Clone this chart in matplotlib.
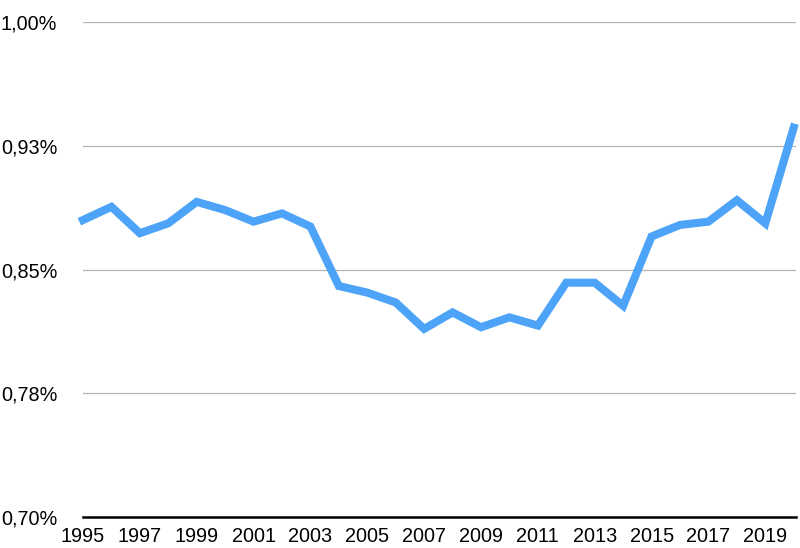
import matplotlib

matplotlib.use("Agg")
import matplotlib.pyplot as plt

# Share values (percent)
years = list(range(1995, 2021))
values = [
    0.880, 0.888, 0.872, 0.878, 0.891, 0.886, 0.879, 0.884, 0.876, 0.840,
    0.836, 0.830, 0.814, 0.824, 0.815, 0.821, 0.816, 0.842, 0.842, 0.828,
    0.870, 0.877, 0.879, 0.892, 0.878, 0.936,
]

y_ticks = [0.70, 0.775, 0.85, 0.925, 1.00]
y_tick_labels = ["0,70%", "0,78%", "0,85%", "0,93%", "1,00%"]
x_ticks = list(range(1995, 2020, 2))

plt.rcParams["font.family"] = ["Liberation Sans", "DejaVu Sans"]

fig = plt.figure(figsize=(8.0, 5.48), dpi=100)
ax = fig.add_axes([83 / 800, 1 - 517 / 548, 713 / 800, 495 / 548])

ax.plot(years, values, color="#4da3f7", linewidth=5.8, solid_joinstyle="miter",
        clip_on=False, zorder=3)

ax.set_xlim(1995, 2020.08)
ax.set_ylim(0.70, 1.00)
ax.set_yticks(y_ticks)
ax.set_yticklabels(y_tick_labels)
ax.set_xticks(x_ticks)
ax.set_xticklabels([str(y) for y in x_ticks])

ax.grid(axis="y", color="#b3b3b3", linewidth=0.9)
ax.set_axisbelow(True)
for side in ("left", "right", "top"):
    ax.spines[side].set_visible(False)
ax.spines["bottom"].set_color("black")
ax.spines["bottom"].set_linewidth(1.8)
ax.spines["bottom"].set_zorder(4)

ax.tick_params(axis="y", length=0, pad=18.5, labelsize=14.3)
ax.tick_params(axis="x", length=0, pad=7.5, labelsize=14.3)

fig.savefig("out.png", dpi=100)
